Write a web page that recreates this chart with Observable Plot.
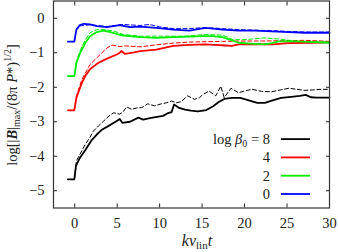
<!DOCTYPE html>
<html>
<head>
<meta charset="utf-8">
<script src="https://cdn.jsdelivr.net/npm/d3@7"></script>
<script src="https://cdn.jsdelivr.net/npm/@observablehq/plot@0.6"></script>
<style>
  html, body { margin: 0; padding: 0; background: #fff; }
  #chart svg { display: block; }
</style>
</head>
<body>
<div id="chart"></div>
<script>
// ---- tick values ----
const xTicks = [0, 5, 10, 15, 20, 25, 30];
const yTicks = [-5, -4, -3, -2, -1, 0];

// ---- legend ----
const legendLabels = ["8", "4", "2", "0"];
const legendColors = ["#000000", "#ff0000", "#00ee00", "#0000ff"];

// ---- log beta0 = 8 (black) ----
const b8SolidT = [-0.8, -0.05, 0.15, 0.6, 1.25, 2.0, 2.6, 3.2, 4.2, 5.0, 5.3, 5.6, 6.5, 7.5, 8.05, 9.0, 10.4, 10.9, 11.4, 11.7, 12.3, 13.0, 13.7, 14.5, 15.5, 16.3, 17.0, 17.6, 18.5, 19.5, 20.5, 21.5, 22.4, 23.3, 24.3, 25.5, 26.5, 27.2, 27.8, 28.5, 30];
const b8SolidV = [-4.67, -4.67, -4.28, -4.05, -3.82, -3.53, -3.37, -3.23, -3.09, -2.97, -2.92, -3.03, -3.0, -2.88, -2.94, -2.89, -2.83, -2.76, -2.72, -2.50, -2.60, -2.65, -2.68, -2.70, -2.66, -2.55, -2.42, -2.34, -2.31, -2.31, -2.38, -2.45, -2.45, -2.38, -2.31, -2.28, -2.25, -2.22, -2.29, -2.30, -2.30];
const b8DashT = [-0.8, -0.05, 0.2, 0.6, 1.25, 1.8, 2.2, 2.8, 3.4, 4.2, 4.6, 5.3, 5.7, 6.1, 6.7, 7.3, 7.9, 8.6, 9.4, 10.2, 10.8, 11.4, 12.0, 12.5, 13.3, 14.1, 14.7, 15.1, 15.8, 16.6, 17.2, 17.6, 18.4, 19.3, 20.1, 20.9, 22.0, 23.2, 24.2, 25.2, 26.2, 27.1, 28.0, 29.0, 30];
const b8DashV = [-4.67, -4.67, -4.13, -3.95, -3.65, -3.45, -3.27, -3.12, -2.98, -2.80, -2.74, -2.78, -2.71, -2.57, -2.64, -2.60, -2.59, -2.48, -2.54, -2.48, -2.45, -2.40, -2.45, -2.42, -2.25, -2.35, -2.30, -2.21, -2.11, -2.25, -1.97, -2.30, -2.03, -2.16, -2.10, -2.06, -2.12, -2.13, -2.08, -2.03, -2.06, -2.09, -2.08, -2.06, -2.06];

// ---- log beta0 = 4 (red) ----
const b4SolidT = [-0.8, -0.05, 0.2, 0.85, 1.3, 1.8, 2.3, 2.8, 3.8, 4.95, 5.3, 5.5, 5.9, 7.0, 7.7, 9.6, 11.6, 13.5, 15.4, 16.5, 17.8, 18.5, 19.3, 21.0, 23.3, 25.2, 27.9, 30];
const b4SolidV = [-2.67, -2.67, -2.30, -1.87, -1.65, -1.48, -1.38, -1.29, -1.17, -1.05, -1.00, -0.95, -1.03, -0.99, -0.95, -0.91, -0.80, -0.77, -0.76, -0.77, -0.79, -0.80, -0.76, -0.75, -0.76, -0.72, -0.71, -0.70];
const b4DashT = [-0.8, -0.05, 0.2, 0.85, 1.8, 3.0, 3.8, 4.4, 5.3, 6.0, 7.7, 9.6, 11.6, 13.5, 15.5, 17.4, 19.3, 22.0, 25.0, 27.1, 30];
const b4DashV = [-2.67, -2.67, -2.25, -1.77, -1.34, -1.05, -0.86, -0.78, -0.82, -0.80, -0.83, -0.77, -0.72, -0.69, -0.68, -0.67, -0.66, -0.66, -0.65, -0.64, -0.67];

// ---- log beta0 = 2 (green) ----
const b2SolidT = [-0.8, -0.05, 0.2, 0.65, 1.25, 1.8, 2.6, 3.4, 4.2, 5.0, 5.7, 7.7, 9.6, 11.6, 13.5, 15.0, 16.2, 17.4, 18.0, 18.6, 19.3, 21.2, 22.4, 23.2, 24.0, 26.0, 28.0, 30];
const b2SolidV = [-1.68, -1.68, -1.29, -1.00, -0.71, -0.52, -0.40, -0.36, -0.40, -0.46, -0.50, -0.55, -0.57, -0.55, -0.53, -0.52, -0.52, -0.55, -0.60, -0.65, -0.71, -0.74, -0.76, -0.72, -0.67, -0.67, -0.69, -0.71];
const b2DashT = [-0.8, -0.05, 0.2, 0.65, 1.25, 1.8, 2.6, 3.4, 4.6, 5.7, 7.7, 10.0, 13.0, 15.4, 17.4, 18.0, 18.6, 20.0, 22.4, 24.0, 26.2, 28.0, 30];
const b2DashV = [-1.68, -1.68, -1.25, -0.93, -0.62, -0.42, -0.33, -0.33, -0.37, -0.47, -0.52, -0.52, -0.52, -0.47, -0.49, -0.55, -0.62, -0.62, -0.57, -0.60, -0.67, -0.68, -0.69];

// ---- log beta0 = 0 (blue) ----
const b0SolidT = [-0.8, -0.05, 0.2, 0.6, 1.05, 1.8, 2.6, 3.8, 5.3, 6.5, 7.7, 9.6, 11.6, 13.5, 15.4, 17.4, 19.3, 21.2, 23.2, 25.2, 27.1, 30];
const b0SolidV = [-0.68, -0.68, -0.33, -0.20, -0.16, -0.18, -0.23, -0.26, -0.20, -0.26, -0.24, -0.28, -0.33, -0.36, -0.28, -0.33, -0.36, -0.36, -0.38, -0.40, -0.42, -0.42];
const b0DashT = [0.6, 1.8, 3.8, 5.7, 7.7, 8.8, 10.0, 11.6, 13.5, 15.4, 17.4, 19.3, 23.2, 27.1, 30];
const b0DashV = [-0.22, -0.19, -0.24, -0.18, -0.21, -0.18, -0.25, -0.30, -0.30, -0.27, -0.30, -0.33, -0.36, -0.40, -0.40];

const toRows = (ts, vs) => ts.map((t, i) => ({t, v: vs[i]}));
const series = [
  {solid: toRows(b8SolidT, b8SolidV), dash: toRows(b8DashT, b8DashV), color: legendColors[0]},
  {solid: toRows(b4SolidT, b4SolidV), dash: toRows(b4DashT, b4DashV), color: legendColors[1]},
  {solid: toRows(b2SolidT, b2SolidV), dash: toRows(b2DashT, b2DashV), color: legendColors[2]},
  {solid: toRows(b0SolidT, b0SolidV), dash: toRows(b0DashT, b0DashV), color: legendColors[3]}
];

const FONT = "'Liberation Serif', 'DejaVu Serif', serif";
const fmt = d3.format("d");

const lineMarks = [];
for (const s of series) {
  lineMarks.push(Plot.line(s.dash, {x: "t", y: "v", stroke: s.color, strokeWidth: 1, strokeDasharray: "4,2.5"}));
  lineMarks.push(Plot.line(s.solid, {x: "t", y: "v", stroke: s.color, strokeWidth: 1.8}));
}

const plot = Plot.plot({
  width: 338,
  height: 252,
  marginLeft: 53,
  marginRight: 9,
  marginTop: 0.5,
  marginBottom: 44.5,
  style: {fontFamily: FONT, fontSize: "14px", background: "#fff", color: "#222"},
  x: {domain: [-2.5, 30]},
  y: {domain: [-5.5, 0.5]},
  marks: [
    Plot.axisX({ticks: xTicks, tickSize: -4, tickPadding: 14, tickFormat: fmt, label: null, fontSize: 14.5, fontFamily: FONT}),
    Plot.axisX({anchor: "top", ticks: xTicks, tickSize: -4, tickFormat: () => "", label: null}),
    Plot.axisY({ticks: yTicks, tickSize: -4, tickPadding: 13, tickFormat: fmt, label: null, fontSize: 14.5, fontFamily: FONT}),
    Plot.axisY({anchor: "right", ticks: yTicks, tickSize: -4, tickFormat: () => "", label: null}),
    ...lineMarks,
    Plot.frame({stroke: "#333", strokeWidth: 1.2})
  ]
});

document.getElementById("chart").appendChild(plot);

// ---- rich-text axis labels and legend ----
const svg = d3.select(plot);
const [x0, x1] = plot.scale("x").range;
const [yb, yt] = plot.scale("y").range;

// y label
const yl = svg.append("text")
  .attr("transform", `translate(17,${(yb + yt) / 2 + 1}) rotate(-90)`)
  .attr("text-anchor", "middle")
  .attr("font-family", FONT)
  .attr("font-size", 14.5)
  .attr("fill", "#222");
yl.append("tspan").text("log[|");
yl.append("tspan").attr("font-weight", "bold").attr("font-style", "italic").text("B");
yl.append("tspan").text("|");
yl.append("tspan").attr("font-size", 10).attr("dy", 3).text("max");
yl.append("tspan").attr("dy", -3).text("/(8π");
yl.append("tspan").attr("font-style", "italic").text(" P");
yl.append("tspan").text("*)");
yl.append("tspan").attr("font-size", 10).attr("dy", -6).text("1/2");
yl.append("tspan").attr("dy", 6).text("]");

// x label
const xl = svg.append("text")
  .attr("x", (x0 + x1) / 2 + 6)
  .attr("y", 246)
  .attr("text-anchor", "middle")
  .attr("font-family", FONT)
  .attr("font-size", 16)
  .attr("fill", "#222");
xl.append("tspan").attr("font-style", "italic").text("kv");
xl.append("tspan").attr("font-size", 11).attr("dy", 3).text("lin");
xl.append("tspan").attr("font-style", "italic").attr("dy", -3).text("t");

// legend
const lg = svg.append("g").attr("font-family", FONT).attr("font-size", 14.5).attr("fill", "#222");
legendLabels.forEach((lab, i) => {
  const yy = yb - 13.5 - (legendLabels.length - 1 - i) * 18.3;
  const tx = lg.append("text").attr("x", x1 - 59).attr("y", yy + 5).attr("text-anchor", "end");
  if (i === 0) {
    tx.append("tspan").text("log ");
    tx.append("tspan").attr("font-style", "italic").text("β");
    tx.append("tspan").attr("font-size", 10).attr("dy", 3).text("0");
    tx.append("tspan").attr("dy", -3).text(" = " + lab);
  } else {
    tx.text(lab);
  }
  lg.append("line")
    .attr("x1", x1 - 48).attr("x2", x1 - 19)
    .attr("y1", yy).attr("y2", yy)
    .attr("stroke", legendColors[i]).attr("stroke-width", 1.8);
});
</script>
</body>
</html>
